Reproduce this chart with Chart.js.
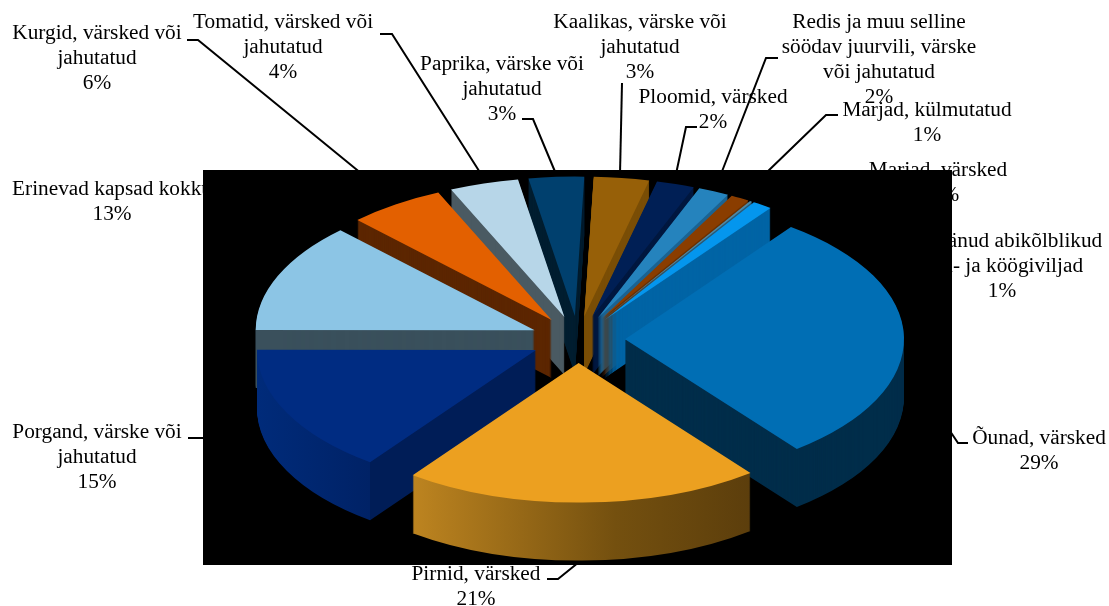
<!DOCTYPE html>
<html>
<head>
<meta charset="utf-8">
<title>Puu- ja köögiviljad</title>
<style>
    html, body { margin: 0; padding: 0; background: #fff; }
    #chart { display: block; width: 1109px; height: 606px; }
</style>
<script src="https://cdn.jsdelivr.net/npm/chart.js@4/dist/chart.umd.min.js"></script>
</head>
<body>
<canvas id="chart" width="1109" height="606"></canvas>
<script>
    // data, clockwise from the apples slice
    var categories = [
        "Õunad, värsked",
        "Pirnid, värsked",
        "Porgand, värske või jahutatud",
        "Erinevad kapsad kokku",
        "Kurgid, värsked või jahutatud",
        "Tomatid, värsked või jahutatud",
        "Paprika, värske või jahutatud",
        "Kaalikas, värske või jahutatud",
        "Ploomid, värsked",
        "Redis ja muu selline söödav juurvili, värske või jahutatud",
        "Marjad, külmutatud",
        "Marjad, värsked",
        "Ülejäänud abikõlblikud puu- ja köögiviljad"
    ];
    var shares = [29.3, 20.7, 14.9, 12.7, 5.6, 4.0, 3.2, 3.2, 2.2, 1.8, 1.1, 0.15, 1.15];
    var percentLabels = ["29%", "21%", "15%", "13%", "6%", "4%", "3%", "3%", "2%", "2%", "1%", "0%", "1%"];

    var topColors = ["#006eb4", "#eca020", "#002c82", "#8cc5e5", "#e36000", "#b7d6e8", "#00406e", "#976008", "#001f55", "#2583bd", "#8a3d00", "#4a89a8", "#0496ee"];
    var wallColors = ["#002d4a", "#8a5c12", "#001d57", "#3a505c", "#5c2600", "#4a5a62", "#001e30", "#7a4e06", "#00173f", "#1b6392", "#6b3000", "#2a5a75", "#0064a5"];

    // text block and leader line per slice: centre x, y of first line, wrapped lines, line points
    var labelLayout = [
        {x: 1039, y: 438, lines: ["Õunad, värsked"], leader: [[968, 443], [958, 443], [950, 431]]},
        {x: 476, y: 574, lines: ["Pirnid, värsked"], leader: [[547, 579], [558, 579], [584, 558]]},
        {x: 97, y: 432, lines: ["Porgand, värske või", "jahutatud"], leader: [[188, 438], [205, 438]]},
        {x: 112, y: 189, lines: ["Erinevad kapsad kokku"], leader: []},
        {x: 97, y: 33, lines: ["Kurgid, värsked või", "jahutatud"], leader: [[187, 40], [198, 40], [362, 174]]},
        {x: 283, y: 22, lines: ["Tomatid, värsked või", "jahutatud"], leader: [[380, 34], [392, 34], [481, 174]]},
        {x: 502, y: 64, lines: ["Paprika, värske või", "jahutatud"], leader: [[522, 119], [533, 119], [556, 174]]},
        {x: 640, y: 22, lines: ["Kaalikas, värske või", "jahutatud"], leader: [[622, 83], [620, 174]]},
        {x: 713, y: 97, lines: ["Ploomid, värsked"], leader: [[697, 127], [686, 127], [676, 174]]},
        {x: 879, y: 22, lines: ["Redis ja muu selline", "söödav juurvili, värske", "või jahutatud"], leader: [[778, 58], [766, 58], [721, 174]]},
        {x: 927, y: 110, lines: ["Marjad, külmutatud"], leader: [[838, 115], [826, 115], [765, 174]]},
        {x: 938, y: 170, percentX: 945, lines: ["Marjad, värsked"], leader: []},
        {x: 1002, y: 241, lines: ["Ülejäänud abikõlblikud", "puu- ja köögiviljad"], leader: []}
    ];

    var pieCenter = {x: 578, y: 339.5};
    var plotBox = {left: 203, top: 170, right: 952, bottom: 565};
    var squash = 0.5;
    var explode = 47;
    var depth = 58;

    function wallFill(ctx, arc, i) {
        var x0, x1, g;
        if (i == 1) {
            // pears: the front wall fades to the right
            x0 = arc.x + arc.outerRadius * Math.cos(arc.endAngle);
            x1 = arc.x + arc.outerRadius * Math.cos(arc.startAngle);
            g = ctx.createLinearGradient(x0, 0, x1, 0);
            g.addColorStop(0, "#bd8420");
            g.addColorStop(0.6, "#74500f");
            g.addColorStop(1, "#5c3e0c");
            return g;
        }
        if (i == 2) {
            // carrots: curved wall is lighter than the cut face
            x0 = arc.x + arc.outerRadius * Math.cos(Math.PI);
            x1 = arc.x + arc.outerRadius * Math.cos(arc.startAngle);
            g = ctx.createLinearGradient(x0, 0, x1, 0);
            g.addColorStop(0, "#002b7a");
            g.addColorStop(0.999, "#002266");
            g.addColorStop(1, wallColors[2]);
            return g;
        }
        return wallColors[i];
    }

    function drawSlice(ctx, arc, fill, dy) {
        var mid = (arc.startAngle + arc.endAngle) / 2;
        var own = arc.options;
        ctx.save();
        ctx.translate(pieCenter.x, pieCenter.y + dy);
        ctx.scale(1, squash);
        ctx.translate(-arc.x, -arc.y);
        ctx.translate(Math.cos(mid) * explode, Math.sin(mid) * explode);
        arc.options = Object.assign({}, own, {backgroundColor: fill});
        arc.draw(ctx);
        arc.options = own;
        ctx.restore();
    }

    var pie3d = {
        id: "pie3d",
        beforeDatasetsDraw: function (chart) {
            var ctx = chart.ctx;
            var arcs = chart.getDatasetMeta(0).data;

            // labels go first, the black plot box covers parts of them
            ctx.save();
            ctx.strokeStyle = "#000";
            ctx.lineWidth = 2;
            labelLayout.forEach(function (item) {
                if (item.leader.length) {
                    ctx.beginPath();
                    item.leader.forEach(function (p, n) {
                        if (n == 0) ctx.moveTo(p[0], p[1]); else ctx.lineTo(p[0], p[1]);
                    });
                    ctx.stroke();
                }
            });
            ctx.fillStyle = "#000";
            ctx.font = "21.3px 'Liberation Serif'";
            ctx.textAlign = "center";
            ctx.textBaseline = "middle";
            labelLayout.forEach(function (item, i) {
                item.lines.forEach(function (row, n) {
                    ctx.fillText(row, item.x, item.y + n * 25);
                });
                ctx.fillText(percentLabels[i], item.percentX || item.x, item.y + item.lines.length * 25);
            });
            ctx.fillRect(plotBox.left, plotBox.top, plotBox.right - plotBox.left, plotBox.bottom - plotBox.top);
            ctx.restore();

            // back slices first, each one stacked from its bottom up
            var order = arcs.map(function (a, i) { return i; });
            order.sort(function (a, b) {
                var ma = (arcs[a].startAngle + arcs[a].endAngle) / 2;
                var mb = (arcs[b].startAngle + arcs[b].endAngle) / 2;
                return Math.sin(ma) - Math.sin(mb);
            });
            order.forEach(function (i) {
                var arc = arcs[i];
                var wall = wallFill(ctx, arc, i);
                for (var d = depth; d > 0; d--) {
                    drawSlice(ctx, arc, wall, d);
                }
                drawSlice(ctx, arc, topColors[i], 0);
            });
            return false;
        }
    };

    new Chart(document.getElementById("chart").getContext("2d"), {
        type: "pie",
        data: {
            labels: categories,
            datasets: [{
                data: shares,
                backgroundColor: topColors,
                borderWidth: 0
            }]
        },
        options: {
            responsive: false,
            animation: false,
            rotation: 36.5,
            radius: 279,
            plugins: {
                legend: {display: false},
                tooltip: {enabled: false}
            },
            events: []
        },
        plugins: [pie3d]
    });
</script>
</body>
</html>
